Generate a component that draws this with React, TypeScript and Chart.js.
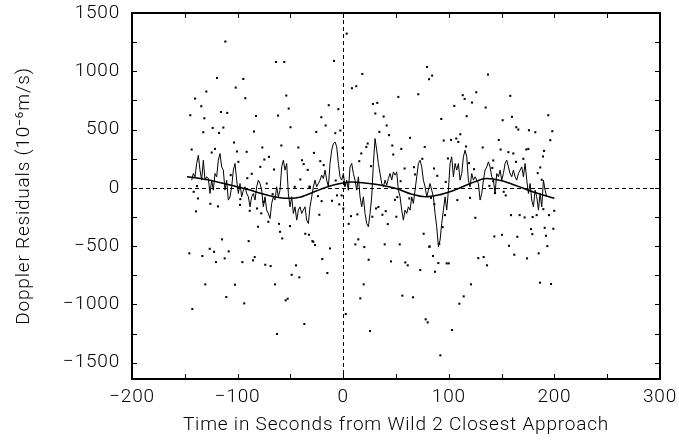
import React, { useEffect, useRef } from 'react';
import { Chart, registerables } from 'chart.js';

Chart.register(...registerables);

// ---- axis ticks ----
const X_LABEL_TICKS = [-200, -100, 0, 100, 200, 300];
const X_MARK_TICKS = [-150, -100, -50, 0, 50, 100, 150, 200, 250];
const Y_LABEL_TICKS = [-1500, -1000, -500, 0, 500, 1000, 1500];
const Y_MARK_TICKS = [-1500, -1250, -1000, -750, -500, -250, 0, 250, 500, 750, 1000, 1250];

// ---- scatter residual samples (seconds, 1e-6 m/s) ----
const DOT_X = [
  -111.6, -63.6, -55.8, -119.5, -94.6, -101.8, -129.6, -140.3, -92.7, -53.9, -134.4, -51.6, -144.8, -115.7, -109.8, -82.6,
  -61.7, -131.5, -123.6, -113.5, -132.5, -117.6, -84.5, -49.9, -103.4, -143.5, -121.4, -124.5, -100.6, -91.4, -76.6, -58.6,
  -42.5, -74.7, -99.3, -39, -37.4, -78.5, -65.5, -86.6, -106.5, -90.8, -40.6, -72.4, -138.4, -45.9, -32.1, -141.6, -70.3,
  3.3, -8.7, 18.1, 8.3, 12.4, 79.4, 81.3, 52.2, 71.1, -13.7, 28.2, 32.3, -4.6, 30.4, 38.3, -20.7, -16.6, 41.2, -25.5, -7.5,
  -2.7, 34.2, 43.4, 63.3, 23.2, 21.9, 46.5, 55, 77.2, -27.7, -0.5, 17.1, 47.4, -21.7, 15.2, 74.9, -18.5, 26.3, -33.6, 58.2,
  67, 68, -7.1, 1.7, 54.4, -31.4,
  84.2, 137.1, 113.2, 115, 126, 158.2, 105.2, 122, 134.9, 92.9, 116.9, 159.8, 151, 194.2, 163.9, 165.8, 175.9, 181.9, 198,
  110.9, 95.2, 102.1, 107.1, 109, 147.3, 196.1, 116.3, 132.1, 149.1, 156.4, 161.1, 173.4, 175.3, 190.2, 99.2, 119.1, 142.1,
  163.6, 170.6, 189.2, 86, 123.9, 141.2, 89.1, 186.6, 184.2, 97.1, 188, 138.4, 142.1,
  -137.5, -125.8, -118.6, -139.4, -97.4, -97.7, -88.5, -81.6, -77.6, -75.3, -66.8, -80.7, -70.9, -60.8, -50.4, -59.8, -57.7,
  -35.9, -32.4, -114.8, -89.5, -145.7, -126.4, -122.3, -108.4, -133.4, -112.2, -120.5, -95.5, -85.4, -83.8, -73.8, -68.7,
  -44.7, -48.8, -41.6, -130.6, -102.5, -64.6, -110.7, -93.7, -54.5, -52.6, -142.9, -36.8, -62.7,
  -23.9, -10.6, -5.9, -1.5, -3.7, 0.1, -22.6, 5.2, 7.4, 13.4, 27.6, 31.1, 33.3, 37.1, 40.3, 42.2, 50.3, 49, 51.2, 62.6,
  -29.2, -28.3, -26.7, -12.5, -19.8, -15, 11.5, 14.3, 20, 24.1, 39.3, 53.5, 45.3, 58.8, 61.1, 73, 76.2, 81.5, 19.4, 16.2,
  56, 66.1, 2.4, 25.4, 78.1, 80, -20.4,
  83.1, 108.1, 120.1, 143.8, 152, 153.9, 96.4, 94.2, 125.1, 158.9, 167.1, 171.8, 183.2, 194.9, 199.9, 177.8, 179.1, 190.8,
  192, 199, 143.1, 150.4, 164.9, 81.9, 91, 85, 90.1, 98, 99.9, 86.9, 127.9, 133, 136.2, 157, 162, 174.1, 185.1, 193.3, 121,
  110, 114.1, 186.4, 196.8, 103, 92, 179.4, 189.5, 86.3,
];
const DOT_Y = [
  1255, 1080, 1080, 943, 934, 860, 826, 766, 769, 792, 700, 680, 623, 651, 643, 617,
  620, 597, 514, 517, 477, 471, 483, 520, 389, 329, 334, 303, 312, 309, 346, 363,
  346, 243, 223, 237, 203, 180, 157, 120, 109, 83, 72, 37, 15, 9, 9, -34, 266,
  1323, 1089, 977, 855, 872, 1037, 932, 780, 803, 709, 720, 729, 675, 638, 612, 606, 535, 535, 480, 469,
  492, 480, 452, 429, 380, 351, 363, 334, 351, 300, 343, 295, 286, 229, 229, 249, 195, 186, 154, 166,
  177, 115, 63, 23, 57, 9,
  963, 972, 795, 763, 820, 789, 703, 732, 689, 591, 615, 609, 580, 623, 520, 500, 494, 477, 486,
  460, 406, 411, 423, 394, 411, 409, 355, 346, 329, 306, 295, 329, 334, 317, 252, 212, 235,
  223, 249, 269, 166, 160, 171, 103, 175, 126, 51, 69, 17, 57,
  -91, -137, -159, -202, -97, -146, -197, -177, -219, -120, -54, -334, -291, -309, -328, -377, -434,
  -394, -403, -442, -457, -562, -523, -549, -545, -585, -605, -637, -637, -622, -594, -660, -671,
  -665, -746, -768, -828, -831, -828, -937, -991, -965, -951, -1040, -1168, -1254,
  -71, -111, -65, -65, -142, -177, -231, -309, -243, -228, -248, -177, -165, -231, -200, -311, -248, -103, -80, -91,
  -457, -463, -491, -520, -611, -731, -485, -442, -508, -617, -485, -485, -631, -640, -665, -705, -394, -505, -828, -948,
  -925, -939, -1083, -1228, -1128, -1154, -114,
  -86, -105, -86, -45, -34, -65, -234, -337, -257, -234, -234, -254, -234, -234, -197, -354, -397, -343,
  -411, -351, -417, -403, -420, -503, -480, -585, -645, -648, -648, -720, -603, -594, -665, -497, -574, -605, -562, -500, -828,
  -994, -931, -814, -825, -1220, -1437, -251, -183, -140,
];

// ---- running-average curve (start time, sample spacing, values) ----
const RUN_X0 = -143.5;
const RUN_DX = 1.5787;
const RUN_Y = [
  66, 123, 95, 209, 280, 152, 66, 237, 66, 95,
  80, -48, 66, -20, 123, 95, 237, 294, 180, 152,
  -20, 66, -105, -77, 9, 152, 209, 66, -48, 37,
  -77, -20, 9, -48, -77, -163, -77, -48, -105, 9,
  66, 37, -20, -163, -77, -191, -220, -263, -134, -77,
  -105, 9, -77, -20, 180, 237, 152, 209, -48, -163,
  -77, -220, -163, -277, -191, -163, -220, -191, -163, -277,
  -306, -163, -77, 9, 66, 9, 37, 66, 109, 80,
  152, 66, 9, 209, 323, 380, 394, 352, 209, 95,
  66, 123, 9, 66, -20, 180, 209, 123, 66, -20,
  95, -77, -163, -77, -220, -306, -334, -220, -77, 209,
  423,
  323, 209, 123, 37, 9, 66, 23, 80, 123, 66,
  137, 109, 137, -20, -77, -191, -277, -191, -220, -163,
  -191, -77, -134, -20, 95, 209, 237, 180, 66, 9,
  -77, -20, 37, -20, -77, -220, -334, -505, -448, -306,
  -191, -77, -191, -20, 209, 266, 95, 209, 152, 209,
  66, 123, 266, 323, 266, 66, 9, 123, 66, 95,
  66, 37, -105, -48, 66, 152, 180, 223, 180, 95,
  66, -48, 123, 95, 152, 66, 123, 209, 237, 180,
  123, 95, 152, 95, 66, 123, 152, 180, 95, 209,
  66, -48, 37, -105, -163, -20, -77, -191, -48, -163,
  66, -20, -77,
];

// ---- smooth fitted curve ----
const FIT_X = [-148, -135, -120, -105, -90, -75, -60, -50, -40, -25, -10, 0, 8, 20, 35, 50, 65, 78, 90, 105, 120, 136, 150, 165, 180, 200];
const FIT_Y = [95, 80, 52, 20, -15, -55, -85, -90, -78, -25, 22, 42, 50, 42, 25, -5, -55, -77, -62, -20, 35, 80, 60, 15, -35, -90];

const FONT_FAMILY = "Roboto, 'Liberation Sans', Arial, sans-serif";
const FONT = { family: FONT_FAMILY, size: 19, weight: '300' as any };
const fmt = (v: number) => (v < 0 ? '\u2212' + Math.abs(v) : String(v));

const spacingPlugin = {
  id: 'letterSpacing',
  beforeUpdate(chart: any) {
    (chart.ctx as any).letterSpacing = '0.8px';
  },
  beforeDraw(chart: any) {
    (chart.ctx as any).letterSpacing = '0.8px';
  },
};

const framePlugin = {
  id: 'frameTicks',
  beforeDatasetsDraw(chart: any) {
    const { ctx, chartArea: a, scales } = chart;
    const x0 = Math.round(scales.x.getPixelForValue(0)) + 0.5;
    const y0 = Math.round(scales.y.getPixelForValue(0)) + 0.5;
    ctx.save();
    ctx.strokeStyle = '#000';
    ctx.lineWidth = 1;
    ctx.setLineDash([4, 3]);
    ctx.beginPath();
    ctx.moveTo(x0, a.top);
    ctx.lineTo(x0, a.bottom);
    ctx.moveTo(a.left, y0);
    ctx.lineTo(a.right, y0);
    ctx.stroke();
    ctx.restore();
  },
  afterDraw(chart: any) {
    const { ctx, chartArea: a, scales } = chart;
    const len = 5;
    ctx.save();
    ctx.strokeStyle = '#000';
    ctx.lineWidth = 1;
    ctx.beginPath();
    X_MARK_TICKS.forEach((v) => {
      const px = Math.round(scales.x.getPixelForValue(v)) + 0.5;
      ctx.moveTo(px, a.top);
      ctx.lineTo(px, a.top + len);
      ctx.moveTo(px, a.bottom);
      ctx.lineTo(px, a.bottom - len);
    });
    Y_MARK_TICKS.forEach((v) => {
      const py = Math.round(scales.y.getPixelForValue(v)) + 0.5;
      ctx.moveTo(a.left, py);
      ctx.lineTo(a.left + len, py);
      ctx.moveTo(a.right, py);
      ctx.lineTo(a.right - len, py);
    });
    ctx.stroke();
    ctx.lineWidth = 2;
    ctx.strokeRect(a.left, a.top, a.right - a.left, a.bottom - a.top);
    ctx.restore();
  },
};

export default function App() {
  const ref = useRef<HTMLCanvasElement | null>(null);
  useEffect(() => {
    if (!ref.current) return;
    const dots = DOT_X.map((x, i) => ({ x, y: DOT_Y[i] }));
    const run = RUN_Y.map((y, i) => ({ x: RUN_X0 + i * RUN_DX, y }));
    const fit = FIT_X.map((x, i) => ({ x, y: FIT_Y[i] }));
    const chart = new Chart(ref.current, {
      type: 'scatter',
      data: {
        datasets: [
          {
            label: 'Residuals',
            data: dots,
            showLine: false,
            pointStyle: 'rect',
            pointRadius: 1.45,
            borderWidth: 0,
            backgroundColor: '#000',
          } as any,
          {
            label: 'Running mean',
            data: run,
            showLine: true,
            borderColor: '#000',
            borderWidth: 1,
            pointRadius: 0,
            tension: 0,
          } as any,
          {
            label: 'Fit',
            data: fit,
            showLine: true,
            borderColor: '#000',
            borderWidth: 1.5,
            pointRadius: 0,
            cubicInterpolationMode: 'monotone',
          } as any,
        ],
      },
      options: {
        animation: false,
        responsive: false,
        events: [],
        layout: { padding: { left: 0, right: 19, top: 13, bottom: 0 } },
        plugins: { legend: { display: false }, tooltip: { enabled: false } },
        scales: {
          x: {
            type: 'linear',
            min: -200,
            max: 300,
            grid: { display: false, drawTicks: true, tickLength: 7, tickColor: 'rgba(0,0,0,0)' },
            border: { display: false },
            afterBuildTicks: (s: any) => {
              s.ticks = X_LABEL_TICKS.map((value) => ({ value }));
            },
            afterFit: (s: any) => {
              s.height = 62;
            },
            ticks: {
              color: '#000',
              padding: 0,
              maxRotation: 0,
              autoSkip: false,
              font: FONT,
              callback: (v: any) => fmt(Number(v)),
            },
            title: {
              display: true,
              text: 'Time in Seconds from Wild 2 Closest Approach',
              color: '#000',
              font: FONT,
              padding: { top: 0, bottom: 4 },
            },
          },
          y: {
            type: 'linear',
            min: -1640,
            max: 1500,
            grid: { display: false, drawTicks: true, tickLength: 12, tickColor: 'rgba(0,0,0,0)' },
            border: { display: false },
            afterBuildTicks: (s: any) => {
              s.ticks = Y_LABEL_TICKS.map((value) => ({ value }));
            },
            afterFit: (s: any) => {
              s.width = 132;
            },
            ticks: {
              color: '#000',
              padding: 0,
              autoSkip: false,
              font: FONT,
              callback: (v: any) => fmt(Number(v)),
            },
            title: {
              display: true,
              text: 'Doppler Residuals (10\u207B\u2076m/s)',
              color: '#000',
              font: FONT,
              padding: { top: 13, bottom: 0 },
            },
          },
        },
      },
      plugins: [spacingPlugin, framePlugin],
    });
    return () => chart.destroy();
  }, []);
  return (
    <div style={{ position: 'fixed', left: 0, top: 0, width: 679, height: 441, background: '#fff' }}>
      <canvas ref={ref} width={679} height={441} style={{ display: 'block' }} />
    </div>
  );
}
